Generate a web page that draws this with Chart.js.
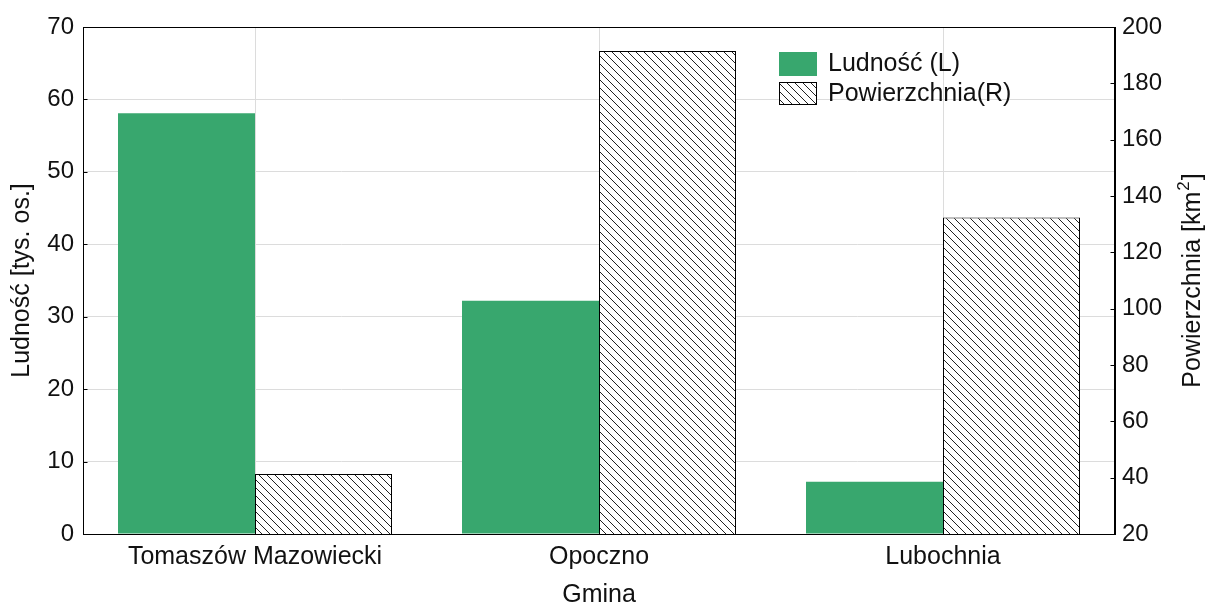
<!DOCTYPE html>
<html>
<head>
<meta charset="utf-8">
<script src="https://cdn.jsdelivr.net/npm/chart.js@4"></script>
<style>
html,body{margin:0;padding:0;background:#fff;}
#wrap{width:1207px;height:605px;}
</style>
</head>
<body>
<div id="wrap"><canvas id="c" width="1207" height="605"></canvas></div>
<script>
const categories = ['Tomaszów Mazowiecki', 'Opoczno', 'Lubochnia'];
const ludnosc = [58.1, 32.2, 7.2];
const powierzchnia = [41.3, 191.5, 132.4];
const seriesLabels = ['Ludność (L)', 'Powierzchnia(R)'];
const axisTitles = { x: 'Gmina', left: 'Ludność [tys. os.]', right: 'Powierzchnia [km', rightSup: '2', rightEnd: ']' };
const leftRange = [0, 70, 10];
const rightRange = [20, 200, 20];

const FONT = 'Liberation Sans, Arial, sans-serif';
const GREEN = '#38a76e';
const TXT = '#111';

function makeHatch() {
  const s = 8;
  const c = document.createElement('canvas');
  c.width = s; c.height = s;
  const g = c.getContext('2d');
  g.fillStyle = '#fff';
  g.fillRect(0, 0, s, s);
  g.strokeStyle = '#222';
  g.lineWidth = 1;
  g.beginPath();
  g.moveTo(0, 0); g.lineTo(s, s);
  g.moveTo(-2, s - 2); g.lineTo(2, s + 2);
  g.moveTo(s - 2, -2); g.lineTo(s + 2, 2);
  g.stroke();
  return g.createPattern(c, 'repeat');
}
const hatch = makeHatch();

const framePlugin = {
  id: 'frame',
  afterDraw(chart) {
    const { ctx, chartArea: a } = chart;
    ctx.save();
    ctx.strokeStyle = '#000';
    ctx.lineWidth = 1;
    const L = Math.round(a.left) + 0.5, R = Math.round(a.right) - 0.5;
    ctx.strokeRect(L, Math.round(a.top) + 0.5, R - L, Math.round(a.bottom - a.top));
    const yL = chart.scales.yL;
    yL.ticks.forEach(t => {
      const y = Math.round(yL.getPixelForValue(t.value)) + 0.5;
      ctx.beginPath();
      ctx.moveTo(L, y);
      ctx.lineTo(L + 4, y);
      ctx.stroke();
    });
    const yR = chart.scales.yR;
    yR.ticks.forEach(t => {
      const y = Math.round(yR.getPixelForValue(t.value)) + 0.5;
      ctx.beginPath();
      ctx.moveTo(R - 4, y);
      ctx.lineTo(R, y);
      ctx.stroke();
    });
    ctx.fillStyle = TXT;
    ctx.translate(1193, (a.top + a.bottom) / 2);
    ctx.rotate(-Math.PI / 2);
    ctx.textBaseline = 'middle';
    ctx.font = '25px ' + FONT;
    const w1 = ctx.measureText(axisTitles.right).width;
    ctx.font = '17px ' + FONT;
    const w2 = ctx.measureText(axisTitles.rightSup).width;
    ctx.font = '25px ' + FONT;
    const w3 = ctx.measureText(axisTitles.rightEnd).width;
    const total = w1 + w2 + w3 + 2;
    let x = -total / 2;
    ctx.textAlign = 'left';
    ctx.fillText(axisTitles.right, x, 0);
    x += w1 + 1;
    ctx.font = '17px ' + FONT;
    ctx.fillText(axisTitles.rightSup, x, -9);
    x += w2 + 1;
    ctx.font = '25px ' + FONT;
    ctx.fillText(axisTitles.rightEnd, x, 0);
    ctx.restore();

    ctx.save();
    const ds = chart.data.datasets;
    const lx = 779, ly = 52;
    ctx.fillStyle = ds[0].backgroundColor;
    ctx.fillRect(lx, ly, 38, 24);
    ctx.fillStyle = ds[1].backgroundColor;
    ctx.fillRect(lx, ly + 30, 38, 23);
    ctx.strokeStyle = '#000';
    ctx.strokeRect(lx + 0.5, ly + 30.5, 37, 22);
    ctx.fillStyle = TXT;
    ctx.font = '25px ' + FONT;
    ctx.textBaseline = 'middle';
    ctx.textAlign = 'left';
    ctx.fillText(ds[0].label, 828, ly + 12);
    ctx.fillText(ds[1].label, 828, ly + 42);
    ctx.restore();
  }
};

new Chart(document.getElementById('c'), {
  type: 'bar',
  data: {
    labels: categories,
    datasets: [
      { label: seriesLabels[0], data: ludnosc, yAxisID: 'yL', backgroundColor: GREEN, borderWidth: 0,
        categoryPercentage: 274 / 344, barPercentage: 1.0 },
      { label: seriesLabels[1], data: powierzchnia, yAxisID: 'yR', backgroundColor: hatch, borderColor: '#000', borderWidth: 1,
        categoryPercentage: 274 / 344, barPercentage: 1.0 }
    ]
  },
  options: {
    responsive: false,
    animation: false,
    devicePixelRatio: 1,
    layout: { padding: { left: 0, right: 0, top: 27, bottom: 0 } },
    plugins: { legend: { display: false }, tooltip: { enabled: false } },
    scales: {
      x: {
        grid: { offset: false, color: '#dcdcdc', drawTicks: false },
        border: { color: '#000' },
        ticks: { color: TXT, font: { family: FONT, size: 25 }, padding: 8, maxRotation: 0 },
        title: { display: true, text: axisTitles.x, color: TXT, font: { family: FONT, size: 25, lineHeight: 0.8 }, padding: { top: 0, bottom: 0 } },
        afterFit(s) { s.height = 71; }
      },
      yL: {
        position: 'left',
        min: leftRange[0], max: leftRange[1],
        ticks: { stepSize: leftRange[2], color: TXT, font: { family: FONT, size: 24 }, padding: 9 },
        grid: { color: '#dcdcdc', drawTicks: false },
        border: { color: '#000' },
        title: { display: true, text: axisTitles.left, color: TXT, font: { family: FONT, size: 25 }, padding: { top: 7, bottom: 0 } },
        afterFit(s) { s.width = 83; }
      },
      yR: {
        position: 'right',
        min: rightRange[0], max: rightRange[1],
        ticks: { stepSize: rightRange[2], color: TXT, font: { family: FONT, size: 24 }, padding: 7 },
        grid: { drawOnChartArea: false, drawTicks: false },
        border: { color: '#000' },
        afterFit(s) { s.width = 92; }
      }
    }
  },
  plugins: [framePlugin]
});
</script>
</body>
</html>
